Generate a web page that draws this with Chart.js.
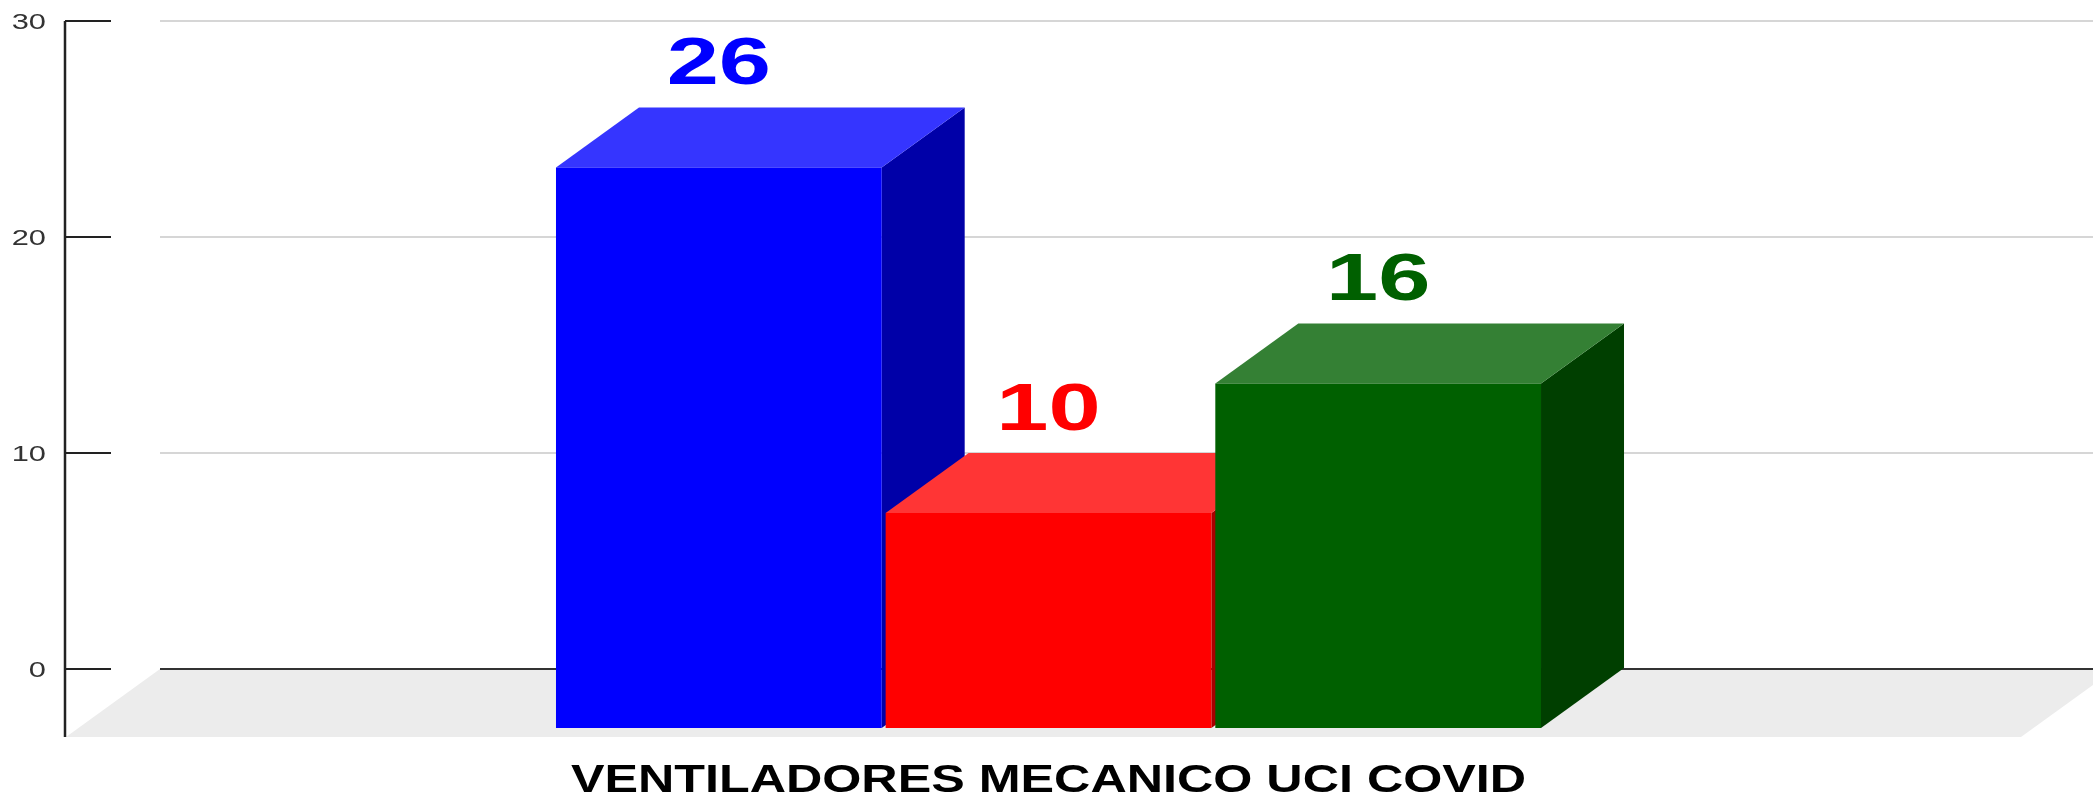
<!DOCTYPE html>
<html>
<head>
<meta charset="utf-8">
<script src="https://cdn.jsdelivr.net/npm/chart.js@4.4.1/dist/chart.umd.min.js"></script>
<style>
  html, body { margin: 0; padding: 0; background: #fff; overflow: hidden; }
  /* the floor runs past the right edge of the window, so the canvas does too */
  #wrap { position: relative; width: 2103px; height: 796px; }
</style>
</head>
<body>
<div id="wrap"><canvas id="chart"></canvas></div>
<script>
// data
const categories = ['VENTILADORES MECANICO UCI COVID'];
const seriesNames = ['Serie 1', 'Serie 2', 'Serie 3'];
const seriesValues = [[26], [10], [16]];

// colours for each face of the boxes
const frontColors = ['#0000ff', '#ff0000', '#006000'];
const topColors = ['#3535ff', '#ff3535', '#348034'];
const sideColors = ['#0000a8', '#a80000', '#003f00'];

// 3d offsets
const DEPTH = { x: 83, y: 60 };
const FLOOR = { x: 94, y: 68, width: 1955 };

function stretchText(ctx, text, x, y, stretch, align) {
    ctx.save();
    ctx.translate(x, y);
    ctx.scale(stretch, 1);
    ctx.textAlign = align;
    ctx.textBaseline = 'alphabetic';
    ctx.fillText(text, 0, 0);
    ctx.restore();
}

function poly(ctx, pts, color) {
    ctx.fillStyle = color;
    ctx.beginPath();
    ctx.moveTo(pts[0][0], pts[0][1]);
    pts.slice(1).forEach(p => ctx.lineTo(p[0], p[1]));
    ctx.closePath();
    ctx.fill();
}

const box3d = {
    id: 'box3d',
    beforeDraw(chart) {
        const { ctx, chartArea } = chart;
        const y0 = chart.scales.y.getPixelForValue(0);
        const l = chartArea.left;
        const r = l + FLOOR.width;
        ctx.save();
        poly(ctx, [[l, y0], [r, y0], [r - FLOOR.x, y0 + FLOOR.y], [l - FLOOR.x, y0 + FLOOR.y]], '#ececec');
        ctx.restore();
    },
    beforeDatasetsDraw(chart) {
        const { ctx } = chart;
        const yScale = chart.scales.y;
        const y0 = yScale.getPixelForValue(0);

        // y axis line, tick marks and labels
        ctx.save();
        ctx.strokeStyle = '#222';
        ctx.lineWidth = 2.5;
        ctx.beginPath();
        ctx.moveTo(65, yScale.top);
        ctx.lineTo(65, y0 + FLOOR.y);
        ctx.stroke();
        ctx.lineWidth = 2;
        ctx.fillStyle = '#333';
        ctx.font = '22px "Liberation Sans", Arial, sans-serif';
        yScale.ticks.forEach(t => {
            const y = yScale.getPixelForValue(t.value);
            ctx.beginPath();
            ctx.moveTo(65, y);
            ctx.lineTo(111, y);
            ctx.stroke();
            stretchText(ctx, String(t.value), 46, y + 8, 1.4, 'right');
        });

        // top and side faces, bar by bar from left to right
        chart.data.datasets.forEach((ds, i) => {
            chart.getDatasetMeta(i).data.forEach(el => {
                const { x, y, base, width } = el.getProps(['x', 'y', 'base', 'width'], true);
                const bl = x - width / 2;
                const br = x + width / 2;
                poly(ctx, [[br, y], [br, base], [br - DEPTH.x, base + DEPTH.y], [br - DEPTH.x, y + DEPTH.y]], sideColors[i]);
                poly(ctx, [[bl, y], [br, y], [br - DEPTH.x, y + DEPTH.y], [bl - DEPTH.x, y + DEPTH.y]], topColors[i]);
            });
        });
        ctx.restore();

        // front faces are the chart.js bars, moved to the front plane
        ctx.save();
        ctx.translate(-DEPTH.x, DEPTH.y);
    },
    afterDatasetsDraw(chart) {
        const { ctx } = chart;
        ctx.restore();

        ctx.save();
        ctx.font = 'bold 67px "Liberation Sans", Arial, sans-serif';
        chart.data.datasets.forEach((ds, i) => {
            chart.getDatasetMeta(i).data.forEach((el, j) => {
                ctx.fillStyle = frontColors[i];
                stretchText(ctx, String(ds.data[j]), el.x - DEPTH.x, el.y - 23, 1.4, 'center');
            });
        });

        const xScale = chart.scales.x;
        ctx.fillStyle = '#000';
        ctx.font = 'bold 39px "Liberation Sans", Arial, sans-serif';
        categories.forEach((c, j) => {
            stretchText(ctx, c, xScale.getPixelForValue(j) - DEPTH.x, 792, 1.289, 'center');
        });
        ctx.restore();
    }
};

new Chart(document.getElementById('chart'), {
    type: 'bar',
    data: {
        labels: categories,
        datasets: seriesNames.map((name, i) => ({
            label: name,
            data: seriesValues[i],
            backgroundColor: frontColors[i],
            borderWidth: 0,
            barPercentage: 0.988,
            categoryPercentage: 0.509
        }))
    },
    options: {
        responsive: true,
        maintainAspectRatio: false,
        animation: false,
        layout: { padding: { top: 21, bottom: 127, left: 0, right: 0 } },
        plugins: {
            legend: { display: false },
            tooltip: { enabled: false }
        },
        scales: {
            x: { display: false },
            y: {
                min: 0,
                max: 30,
                ticks: { stepSize: 10, display: false },
                border: { display: false },
                grid: {
                    drawTicks: false,
                    color: c => (c.tick && c.tick.value === 0) ? '#333' : '#d6d6d6',
                    lineWidth: 2
                },
                afterFit: s => { s.width = 160; }
            }
        }
    },
    plugins: [box3d]
});
</script>
</body>
</html>
